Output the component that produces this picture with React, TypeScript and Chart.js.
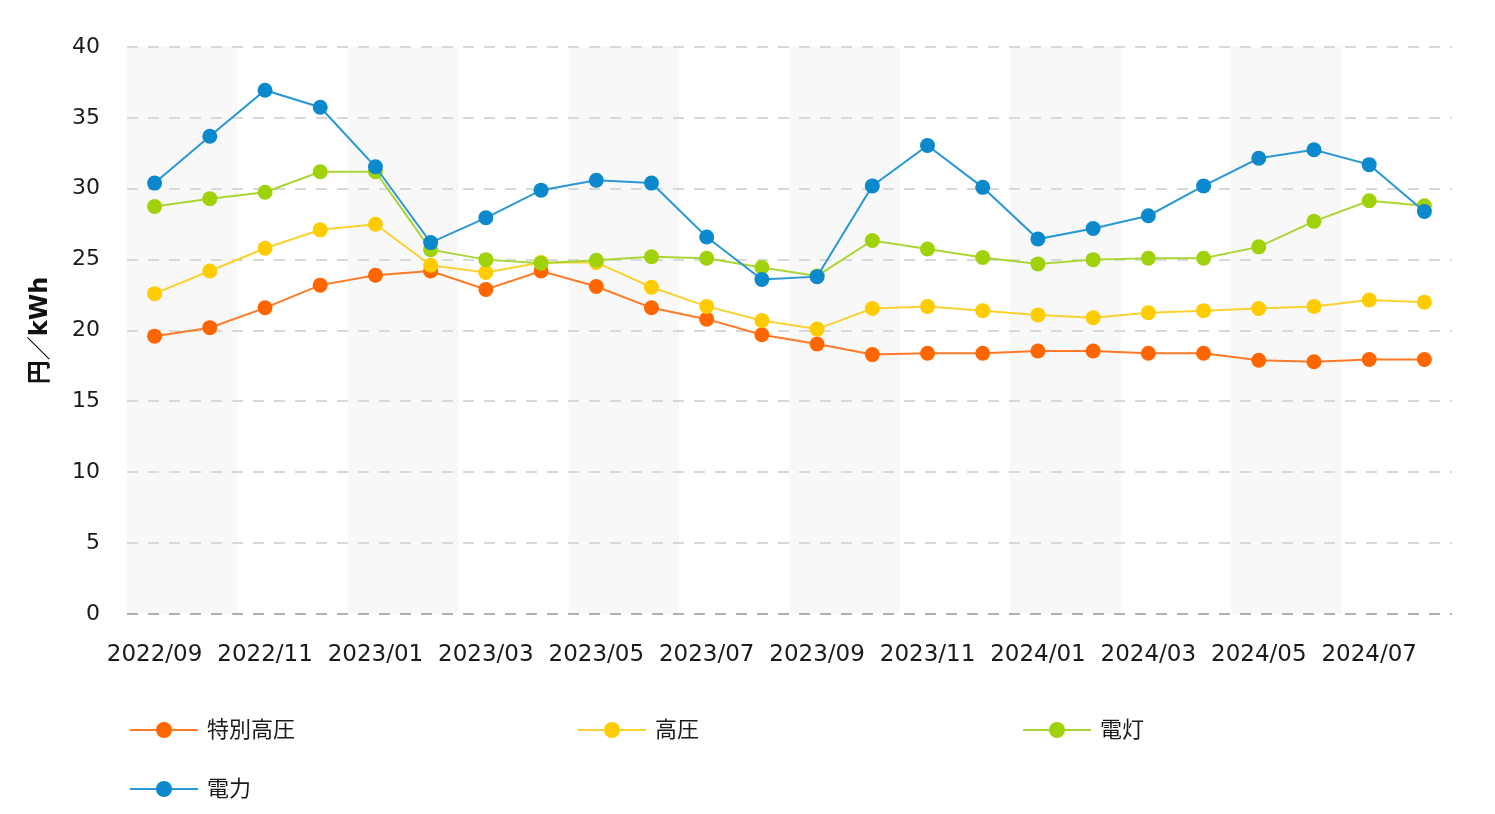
import React, { useEffect, useRef } from "react";
import { Chart, registerables } from "chart.js";

Chart.register(...registerables);

const months: string[] = [
  "2022/09", "2022/10", "2022/11", "2022/12", "2023/01", "2023/02", "2023/03", "2023/04",
  "2023/05", "2023/06", "2023/07", "2023/08", "2023/09", "2023/10", "2023/11", "2023/12",
  "2024/01", "2024/02", "2024/03", "2024/04", "2024/05", "2024/06", "2024/07", "2024/08",
];

const tokubetsuKoatsu: number[] = [
  19.6, 20.2, 21.6, 23.2, 23.9, 24.2, 22.9, 24.2, 23.1, 21.6, 20.8, 19.7,
  19.05, 18.3, 18.4, 18.4, 18.55, 18.55, 18.4, 18.4, 17.9, 17.8, 17.95, 17.95,
];
const koatsu: number[] = [
  22.6, 24.2, 25.8, 27.1, 27.5, 24.6, 24.1, 24.8, 24.8, 23.05, 21.7, 20.7,
  20.1, 21.55, 21.7, 21.4, 21.1, 20.9, 21.25, 21.4, 21.55, 21.7, 22.15, 22.0,
];
const dento: number[] = [
  28.75, 29.3, 29.75, 31.2, 31.2, 25.7, 25.0, 24.75, 24.95, 25.2, 25.1, 24.45,
  23.85, 26.35, 25.75, 25.15, 24.7, 25.0, 25.1, 25.1, 25.9, 27.7, 29.15, 28.8,
];
const denryoku: number[] = [
  30.4, 33.7, 36.95, 35.75, 31.55, 26.2, 27.95, 29.9, 30.6, 30.4, 26.6, 23.6,
  23.8, 30.2, 33.05, 30.1, 26.45, 27.2, 28.1, 30.2, 32.15, 32.75, 31.7, 28.4,
];

const seriesNames: string[] = ["特別高圧", "高圧", "電灯", "電力"];
const seriesColors: string[] = ["#ff6600", "#ffcc00", "#a0d20c", "#0b89cc"];
const lineColors: string[] = ["#ff7a26", "#f9d232", "#aad633", "#2a98d4"];
const yAxisTitle = "円／kWh";

const FONT = "'DejaVu Sans', 'Noto Sans CJK JP', sans-serif";

const bandPlugin = {
  id: "bands",
  beforeDraw(chart: any) {
    const { ctx, chartArea, scales } = chart;
    const x = scales.x;
    const n = chart.data.labels.length;
    const w = chartArea.width / n;
    ctx.save();
    ctx.fillStyle = "#f8f8f8";
    for (let i = 0; i < n; i++) {
      if (i % 4 === 0) {
        const cx = x.getPixelForValue(i);
        ctx.fillRect(cx - w / 2, chartArea.top, w * 2, chartArea.bottom - chartArea.top);
      }
    }
    ctx.restore();
  },
};

const legendPlugin = {
  id: "customLegend",
  afterDraw(chart: any) {
    const { ctx } = chart;
    const colX = [130, 578, 1023];
    const rowY = [730, 789];
    ctx.save();
    seriesNames.forEach((name, i) => {
      const x = colX[i % 3];
      const y = rowY[Math.floor(i / 3)];
      ctx.strokeStyle = lineColors[i];
      ctx.lineWidth = 2;
      ctx.beginPath();
      ctx.moveTo(x, y);
      ctx.lineTo(x + 68, y);
      ctx.stroke();
      ctx.fillStyle = seriesColors[i];
      ctx.beginPath();
      ctx.arc(x + 34, y, 8, 0, Math.PI * 2);
      ctx.fill();
      ctx.fillStyle = "#1a1a1a";
      ctx.font = `22px ${FONT}`;
      ctx.textBaseline = "middle";
      ctx.textAlign = "left";
      ctx.fillText(name, x + 77, y + 1);
    });
    ctx.restore();
  },
};

export default function App() {
  const canvasRef = useRef<HTMLCanvasElement | null>(null);

  useEffect(() => {
    if (!canvasRef.current) return;
    const data = [tokubetsuKoatsu, koatsu, dento, denryoku];
    const orders = [3, 2, 1, 0];
    const chart = new Chart(canvasRef.current, {
      type: "line",
      data: {
        labels: months,
        datasets: data.map((d, i) => ({
          label: seriesNames[i],
          data: d,
          borderColor: lineColors[i],
          backgroundColor: seriesColors[i],
          pointBackgroundColor: seriesColors[i],
          pointBorderColor: seriesColors[i],
          pointBorderWidth: 0,
          pointRadius: 7.5,
          borderWidth: 2,
          tension: 0,
          order: orders[i],
        })),
      },
      options: {
        responsive: false,
        animation: false,
        layout: { padding: { top: 47, right: 43, bottom: 130, left: 0 } },
        plugins: {
          legend: { display: false },
          tooltip: { enabled: false },
        },
        scales: {
          x: {
            offset: true,
            grid: { display: false, drawTicks: false },
            border: { display: false },
            ticks: {
              autoSkip: false,
              maxRotation: 0,
              minRotation: 0,
              padding: 27,
              color: "#1a1a1a",
              font: { family: FONT, size: 23 },
              callback: (_v: any, idx: number) => (idx % 2 === 0 ? months[idx] : ""),
            },
            afterFit: (s: any) => {
              s.height = 70;
            },
          },
          y: {
            min: 0,
            max: 40,
            ticks: {
              stepSize: 5,
              padding: 27,
              color: "#1a1a1a",
              font: { family: FONT, size: 22 },
            },
            grid: {
              drawTicks: false,
              color: (c: any) => (c.tick && c.tick.value === 0 ? "#b0b0b0" : "#d8d8d8"),
              lineWidth: 2,
            },
            border: { display: false, dash: [11, 10] },
            title: {
              display: true,
              text: yAxisTitle,
              color: "#111",
              font: { family: FONT, size: 24, weight: "bold" },
              padding: { top: 26, bottom: 0 },
            },
            afterFit: (s: any) => {
              s.width = 127;
            },
          },
        },
      },
      plugins: [bandPlugin, legendPlugin],
    });
    return () => chart.destroy();
  }, []);

  return (
    <div style={{ position: "absolute", left: 0, top: 0, width: 1495, height: 814, background: "#fff" }}>
      <canvas ref={canvasRef} width={1495} height={814} style={{ display: "block" }} />
    </div>
  );
}
